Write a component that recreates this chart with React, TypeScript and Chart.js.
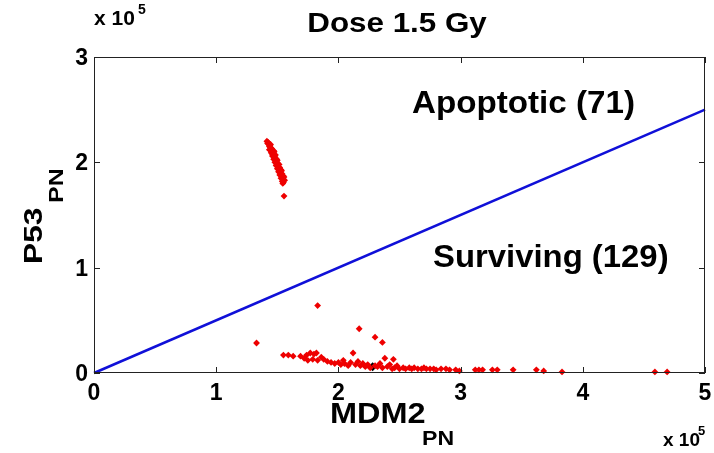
import React, { useEffect, useRef } from "react";
import { Chart, registerables } from "chart.js";

Chart.register(...registerables);

// All values in units of 1e5 (the axes carry "x 10^5")
const title = "Dose 1.5 Gy";
const xTicks = [0, 1, 2, 3, 4, 5];
const yTicks = [0, 1, 2, 3];
const xRange = [0, 5];
const yRange = [0, 3];

// Separatrix line
const lineX = [0, 5];
const lineY = [0, 2.5];

// Apoptotic cells (upper-left cluster)
const apoX = [
  1.415, 1.425, 1.43, 1.44, 1.435, 1.445, 1.45, 1.44, 1.455, 1.46, 1.45, 1.465, 1.47, 1.46,
  1.475, 1.48, 1.47, 1.485, 1.49, 1.48, 1.495, 1.5, 1.49, 1.505, 1.51, 1.5, 1.515, 1.52, 1.51,
  1.525, 1.53, 1.52, 1.535, 1.54, 1.53, 1.545, 1.54, 1.55, 1.545, 1.555,
  1.42, 1.445, 1.455, 1.47, 1.485, 1.475, 1.495, 1.505, 1.52, 1.53, 1.54, 1.555, 1.56,
  1.435, 1.46, 1.48, 1.5, 1.515, 1.535, 1.55,
];
const apoY = [
  2.2, 2.19, 2.17, 2.16, 2.15, 2.14, 2.13, 2.12, 2.11, 2.1, 2.09, 2.08, 2.07, 2.06,
  2.05, 2.04, 2.03, 2.02, 2.01, 2.0, 1.99, 1.98, 1.97, 1.96, 1.95, 1.94, 1.93, 1.92, 1.91,
  1.9, 1.89, 1.88, 1.87, 1.86, 1.85, 1.84, 1.82, 1.81, 1.8, 1.68,
  2.18, 2.17, 2.13, 2.11, 2.07, 2.1, 2.03, 1.99, 1.95, 1.93, 1.89, 1.86, 1.83,
  2.12, 2.08, 2.05, 2.02, 1.98, 1.92, 1.87,
];

// Surviving cells (lower band)
const survX = [
  1.33, 1.83, 2.17, 2.3, 2.36, 1.55, 1.59, 1.63, 1.69, 1.72, 1.74, 1.77, 1.8, 1.82,
  1.75, 1.79, 1.83, 1.86, 1.88, 1.91, 1.94, 1.97, 2.0, 2.02, 2.04, 2.05, 2.08, 2.1, 2.12,
  2.14, 2.16, 2.18, 2.2, 2.22, 2.24, 2.26, 2.3, 2.32, 2.34, 2.36, 2.38, 2.4, 2.42, 2.44,
  2.45, 2.46, 2.48, 2.5, 2.53, 2.55, 2.58, 2.6, 2.62, 2.65, 2.68, 2.7, 2.72, 2.75, 2.78,
  2.8, 2.84, 2.88, 2.91, 2.96, 2.99, 3.12, 3.15, 3.18, 3.26, 3.3, 3.43, 3.62, 3.68, 3.83,
  4.59, 4.69,
];
const survY = [
  0.285, 0.64, 0.42, 0.34, 0.29, 0.17, 0.17, 0.16, 0.16, 0.14, 0.17, 0.19, 0.18, 0.19,
  0.12, 0.13, 0.12, 0.15, 0.13, 0.11, 0.1, 0.09, 0.1, 0.08, 0.12, 0.09, 0.07, 0.1, 0.19,
  0.08, 0.11, 0.07, 0.09, 0.06, 0.08, 0.05, 0.07, 0.06, 0.09, 0.05, 0.14, 0.06, 0.08, 0.04,
  0.13, 0.05, 0.07, 0.04, 0.05, 0.04, 0.05, 0.04, 0.05, 0.04, 0.04, 0.05, 0.04, 0.04, 0.04,
  0.03, 0.04, 0.04, 0.03, 0.03, 0.02, 0.03, 0.03, 0.03, 0.03, 0.03, 0.03, 0.03, 0.02, 0.01,
  0.01, 0.01,
];

// Highlighted (black) cell
const markX = [2.28];
const markY = [0.06];

const apoLabel = "Apoptotic (71)";
const survLabel = "Surviving (129)";

const FONT = "'Liberation Sans', Arial, sans-serif";

function txt(
  ctx: CanvasRenderingContext2D,
  s: string,
  x: number,
  y: number,
  size: number,
  sx: number,
  align: CanvasTextAlign = "left",
  rot = 0
) {
  ctx.save();
  ctx.translate(x, y);
  if (rot) ctx.rotate(rot);
  ctx.scale(sx, 1);
  ctx.font = `bold ${size}px ${FONT}`;
  ctx.textAlign = align;
  ctx.textBaseline = "alphabetic";
  ctx.fillStyle = "#000";
  ctx.fillText(s, 0, 0);
  ctx.restore();
}

const decor = {
  id: "decor",
  afterDatasetsDraw(chart: any) {
    const ctx: CanvasRenderingContext2D = chart.ctx;
    const xs = chart.scales.x;
    const ys = chart.scales.y;
    const { left, right, top, bottom } = chart.chartArea;
    ctx.save();
    ctx.strokeStyle = "#222";
    ctx.lineWidth = 1;
    ctx.strokeRect(left + 0.5, top + 0.5, right - left - 1, bottom - top - 1);
    const tl = 6;
    ctx.beginPath();
    xTicks.forEach((v) => {
      const px = Math.round(xs.getPixelForValue(v)) + 0.5;
      ctx.moveTo(px, bottom);
      ctx.lineTo(px, bottom - tl);
      ctx.moveTo(px, top);
      ctx.lineTo(px, top + tl);
    });
    yTicks.forEach((v) => {
      const py = Math.round(ys.getPixelForValue(v)) + 0.5;
      ctx.moveTo(left, py);
      ctx.lineTo(left + tl, py);
      ctx.moveTo(right, py);
      ctx.lineTo(right - tl, py);
    });
    ctx.stroke();
    xTicks.forEach((v) => {
      txt(ctx, String(v), xs.getPixelForValue(v), 400, 23, 1, "center");
    });
    yTicks.forEach((v) => {
      txt(ctx, String(v), 88, ys.getPixelForValue(v) + 8, 23, 1, "right");
    });
    txt(ctx, "x 10", 94, 25, 21, 1.0);
    txt(ctx, "5", 138, 14, 14, 1.0);
    txt(ctx, "x 10", 663, 446, 19, 1.0);
    txt(ctx, "5", 698, 435, 13, 1.0);
    txt(ctx, title, 397, 32, 28, 1.12, "center");
    txt(ctx, apoLabel, 412, 113, 31, 1.07);
    txt(ctx, survLabel, 433, 267, 31, 1.06);
    txt(ctx, "MDM2", 330, 423, 29, 1.12);
    txt(ctx, "PN", 422, 445, 21, 1.1);
    txt(ctx, "P53", 42, 264, 26, 1.22, "left", -Math.PI / 2);
    txt(ctx, "PN", 63, 203, 20, 1.25, "left", -Math.PI / 2);
    ctx.restore();
  },
};

export default function App() {
  const ref = useRef<HTMLCanvasElement | null>(null);
  useEffect(() => {
    document.body.style.margin = "0";
    const canvas = ref.current;
    if (!canvas) return;
    const pts = (xa: number[], ya: number[]) => xa.map((x, i) => ({ x, y: ya[i] }));
    const red = "#ee0000";
    const chart = new Chart(canvas, {
      type: "scatter",
      data: {
        datasets: [
          {
            type: "line",
            data: pts(lineX, lineY),
            borderColor: "#1010d8",
            borderWidth: 2.5,
            pointRadius: 0,
            showLine: true,
            fill: false,
            clip: false,
          } as any,
          {
            data: pts(apoX, apoY),
            pointStyle: "rectRot",
            pointRadius: 3.4,
            backgroundColor: red,
            borderColor: red,
            borderWidth: 0,
            clip: false,
          } as any,
          {
            data: pts(survX, survY),
            pointStyle: "rectRot",
            pointRadius: 3.4,
            backgroundColor: red,
            borderColor: red,
            borderWidth: 0,
            clip: false,
          } as any,
          {
            data: pts(markX, markY),
            pointStyle: "rectRot",
            pointRadius: 4.5,
            backgroundColor: "#000",
            borderColor: "#000",
            borderWidth: 0,
            clip: false,
          } as any,
        ],
      },
      options: {
        responsive: false,
        animation: false,
        events: [],
        layout: { padding: { left: 94, right: 9, top: 57, bottom: 80 } },
        plugins: { legend: { display: false }, title: { display: false }, tooltip: { enabled: false } },
        scales: {
          x: { type: "linear", display: false, min: xRange[0], max: xRange[1] },
          y: { type: "linear", display: false, min: yRange[0], max: yRange[1] },
        },
      },
      plugins: [decor],
    });
    return () => chart.destroy();
  }, []);
  return (
    <div style={{ width: 714, height: 453, background: "#fff" }}>
      <canvas ref={ref} width={714} height={453} style={{ display: "block" }} />
    </div>
  );
}
